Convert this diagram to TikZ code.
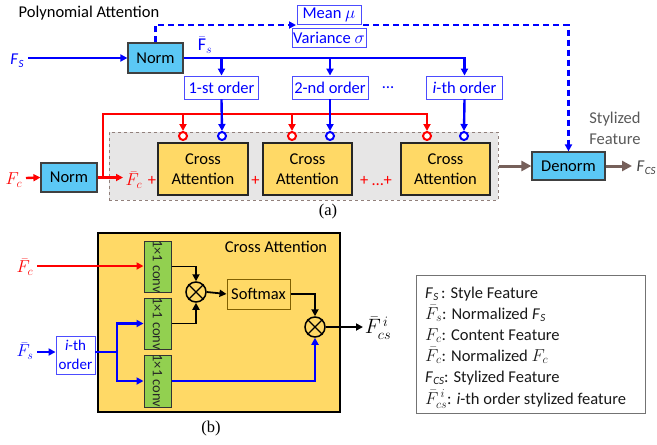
\documentclass[tikz,border=0pt]{standalone}
\usepackage{fontspec}
\setmainfont{Carlito}
\newfontfamily\serifa{Liberation Serif}
\usetikzlibrary{arrows.meta,calc}
\definecolor{normblue}{HTML}{5BC8F5}
\definecolor{cayel}{HTML}{FFD966}
\definecolor{convgreen}{HTML}{92D050}
\definecolor{bgray}{HTML}{E7E6E6}
\definecolor{brn}{HTML}{76605A}
\definecolor{myblue}{HTML}{0000FF}
\definecolor{myred}{HTML}{FF0000}
\definecolor{dgray}{HTML}{404040}
\definecolor{mgray}{HTML}{595959}
\definecolor{smborder}{HTML}{806000}
\newcommand{\sfF}[1]{\textit{F}\kern0.3pt\raisebox{-0.35ex}{\fontsize{11}{11}\selectfont\textit{#1}}}
\begin{document}
\begin{tikzpicture}[x=1pt,y=-1pt,
  every node/.style={font=\fontsize{16.5}{20}\selectfont, inner sep=0pt},
  mathlab/.style={font=\fontsize{18}{21}\selectfont},
  tip/.style={-{Triangle[length=7pt,width=7pt]}},
  bl/.style={draw=myblue, line width=2.4pt},
  rd/.style={draw=myred, line width=2.4pt},
  blk/.style={draw=black, line width=1.8pt},
  brarr/.style={draw=brn, line width=3pt, -{Triangle[length=10pt,width=10pt]}},
  normbox/.style={draw=dgray, fill=normblue, line width=1.2pt},
  ordbox/.style={draw=myblue!70, line width=0.9pt, text=myblue, fill=white},
  cabox/.style={draw=black!85, fill=cayel, line width=1.2pt, align=center, font=\fontsize{16.5}{20.5}\selectfont},
  endc/.style={circle, minimum size=8pt, line width=2pt, fill=white},
  convbox/.style={draw=black!80, fill=convgreen, line width=1pt, minimum width=27pt, minimum height=51pt},
  otimes/.style={circle, draw=black, line width=1.5pt, minimum size=20pt},
  leg/.style={anchor=base west, text=black!90}
]
\useasboundingbox (0,0) rectangle (657,445);

% ---------------- panel (a) ----------------
\node (title) at (89,13) {Polynomial Attention};

\node[text=myblue] (fs) at (17,61) {\sfF{S}};
\node[normbox, minimum width=55pt, minimum height=30pt] (norms) at (155.5,58) {Norm};
\node[text=myblue, mathlab] (fsbar) at (205,45) {$\bar{\mathrm{F}}_s$};

\node[ordbox, minimum width=64pt, minimum height=19pt] (mean) at (329,14.5) {Mean $\mu$};
\node[ordbox, minimum width=74pt, minimum height=19pt] (var) at (329,37.5) {Variance $\sigma$};

\node[ordbox, minimum width=74pt, minimum height=23pt] (ord1) at (221.5,87.5) {1-st order};
\node[ordbox, minimum width=76pt, minimum height=23pt] (ord2) at (330,87.5) {2-nd order};
\node[text=myblue] (dots) at (388,88) {…};
\node[ordbox, minimum width=76pt, minimum height=23pt] (ord3) at (464.5,87.5) {\textit{i}-th order};

% background dashed region
\node[draw=brn!80, dashed, fill=bgray, line width=1pt, minimum width=389pt, minimum height=68pt] (region) at (303.5,166) {};

\node[cabox, minimum width=90pt, minimum height=52pt] (ca1) at (203,169) {Cross\\Attention};
\node[cabox, minimum width=89pt, minimum height=52pt] (ca2) at (307.5,169) {Cross\\Attention};
\node[cabox, minimum width=89pt, minimum height=52pt] (ca3) at (445.5,169) {Cross\\Attention};

\node[text=myred, mathlab] (fc) at (14,180) {$F_c$};
\node[normbox, minimum width=56pt, minimum height=29pt] (normc) at (69,177.5) {Norm};
\node[text=myred, mathlab] (fcbar) at (134,180) {$\bar{F}_c$};
\node[text=myred] (p1) at (152,181) {+};
\node[text=myred] (p2) at (255.5,181) {+};
\node[text=myred] (p3) at (376,181) {+ …+};

\node[endc, draw=myred] (c1r) at (183,136) {};
\node[endc, draw=myblue] (c1b) at (222,136) {};
\node[endc, draw=myred] (c2r) at (292,136) {};
\node[endc, draw=myblue] (c2b) at (330,136) {};
\node[endc, draw=myred] (c3r) at (427,136) {};
\node[endc, draw=myblue] (c3b) at (464,136) {};

\node[normbox, minimum width=73pt, minimum height=28pt] (denorm) at (568.5,166) {Denorm};
\node[text=dgray] (fcs) at (646,168) {\sfF{CS}};
\node[text=mgray, align=center, font=\fontsize{16.5}{21}\selectfont] (styl) at (615,128) {Stylized\\Feature};
\node (capa) at (328,212) {\serifa (a)};

% red connectors
\coordinate (rj) at (103,177.5);
\draw[rd, tip] (normc.east) -- (123,177.5);
\draw[rd, tip] (26,178) -- (normc.west);
\draw[rd, tip] (rj) -- (103,114) -| (c3r.north);
\draw[rd, tip] (c1r.north |- 0,114) -- (c1r.north);
\draw[rd, tip] (c2r.north |- 0,114) -- (c2r.north);

% blue connectors
\draw[bl, tip] (28,58) -- (norms.west);
\draw[bl, tip] (norms.east) -| (ord3.north);
\draw[bl, tip] (ord1.north |- norms.east) -- (ord1.north);
\draw[bl, tip] (ord2.north |- norms.east) -- (ord2.north);
\draw[bl, tip] (ord1.south) -- (c1b.north);
\draw[bl, tip] (ord2.south) -- (c2b.north);
\draw[bl, tip] (ord3.south) -- (c3b.north);

% dashed statistics
\draw[bl, dash pattern=on 6pt off 4pt, tip] (norms.north) -- (155.5,25) -- (296,25);
\draw[bl, dash pattern=on 6pt off 4pt, tip] (363,25) -| (denorm.north);

% brown
\draw[brarr] (region.east |- denorm.west) -- (denorm.west);
\draw[brarr] (denorm.east) -- (632,166);

% ---------------- panel (b) ----------------
\node[draw=black, fill=cayel, line width=1.2pt, minimum width=242pt, minimum height=179pt] (cabig) at (219,322.5) {};
\node (catitle) at (276,247) {Cross Attention};

\node[convbox] (cv1) at (157.5,266.5) {};
\node[convbox] (cv2) at (157.5,323.5) {};
\node[convbox, minimum height=52pt] (cv3) at (157.5,381) {};
\foreach \c in {cv1,cv2,cv3}{
  \node[rotate=-90, font=\fontsize{14.5}{14.5}\selectfont, text=black!85] at (\c) {1×1 conv};
}

\node[otimes] (o1) at (196,292) {};
\draw[line width=1.3pt] (o1.north west) -- (o1.south east) (o1.north east) -- (o1.south west);
\node[otimes] (o2) at (315,327) {};
\draw[line width=1.3pt] (o2.north west) -- (o2.south east) (o2.north east) -- (o2.south west);

\node[draw=smborder, fill=cayel, line width=1pt, minimum width=63pt, minimum height=30pt] (soft) at (258.5,294) {Softmax};

\node[text=myred, mathlab] (fcb2) at (25,267) {$\bar{F}_c$};
\node[text=myblue, mathlab] (fsb2) at (25,351) {$\bar{F}_s$};
\node[ordbox, minimum width=39pt, minimum height=38pt, align=center, font=\fontsize{15}{19}\selectfont] (ith) at (75.5,355) {\textit{i}-th\\order};
\node[font=\fontsize{20}{22}\selectfont] (fcsi) at (378,328) {$\bar{F}_{cs}^{\,i}$};
\node (capb) at (211,429) {\serifa (b)};

\draw[rd, tip] (37,266) -- (cv1.west |- 0,266);
\draw[bl, tip] (37,352) -- (ith.west |- 0,352);
\coordinate (bj) at (117,352);
\draw[bl] (ith.east |- bj) -- (bj);
\draw[bl, tip] (bj) |- (cv2.west);
\draw[bl, tip] (bj) |- (cv3.west);
\draw[bl, tip] (cv3.east) -| (o2.south);

\draw[blk, tip] (cv1.east) -| (o1.north);
\draw[blk, tip] (cv2.east) -| (o1.south);
\draw[blk, tip] (o1.east) -- (soft.west);
\draw[blk, tip] (soft.east) -| (o2.north);
\draw[blk, tip] (o2.east) -- (363,327);

% legend
\node[draw=black!55, line width=1pt, minimum width=229pt, minimum height=138pt] (legend) at (530.5,344) {};
\node[leg] (l1) at (425,298) {\sfF{S}\,: Style Feature};
\node[leg] (l2) at (425,319) {$\bar{F}_s$: Normalized \sfF{S}};
\node[leg] (l3) at (425,340) {$F_c$: Content Feature};
\node[leg] (l4) at (425,361) {$\bar{F}_c$: Normalized $F_c$};
\node[leg] (l5) at (425,382) {\sfF{CS}: Stylized Feature};
\node[leg] (l6) at (425,404) {$\bar{F}_{cs}^{\,i}$: \textit{i}-th order stylized feature};
\end{tikzpicture}
\end{document}
